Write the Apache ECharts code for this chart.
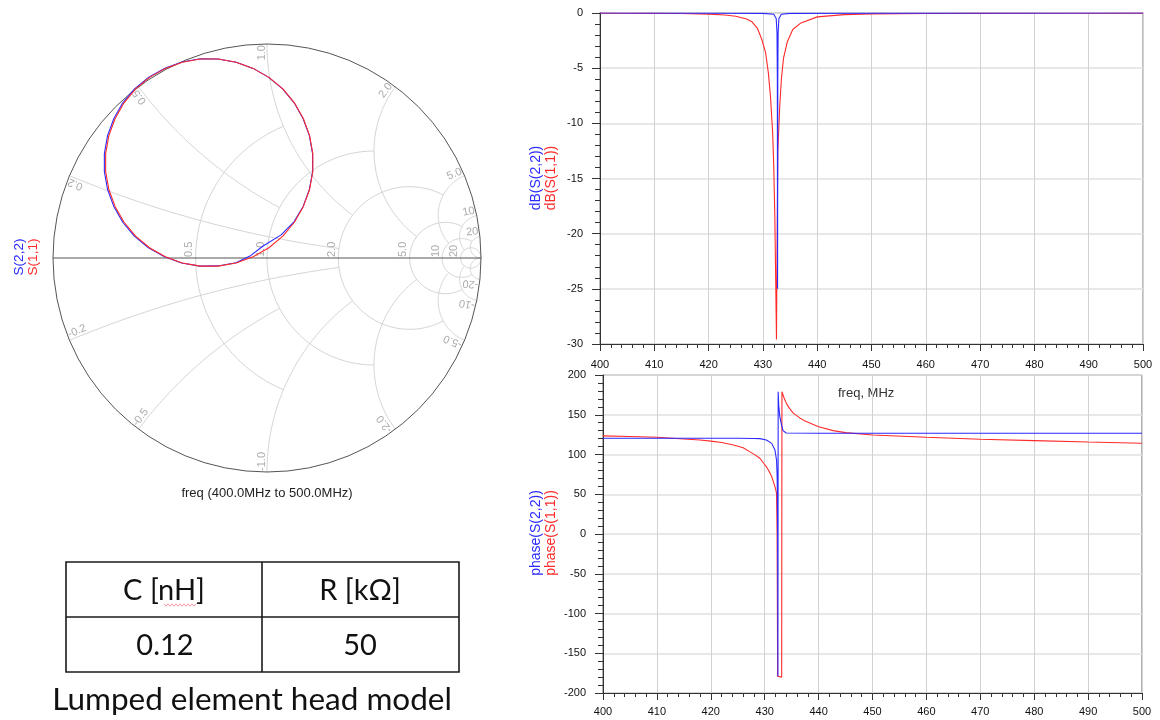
<!DOCTYPE html>
<html>
<head>
<meta charset="utf-8">
<title>S-parameters – lumped element head model</title>
<script src="https://cdn.jsdelivr.net/npm/echarts@6.0.0/dist/echarts.min.js"></script>
<style>
html,body{margin:0;padding:0;background:#fff;}
#chart{width:1160px;height:720px;}
</style>
</head>
<body>
<div id="chart"></div>
<script>
// ---------------- data ----------------
// frequency sweep in MHz
const freqTicks = [400, 410, 420, 430, 440, 450, 460, 470, 480, 490, 500];

// magnitude, dB  [freq MHz, dB]
const dbS11 = [[400,-0.01],[405,-0.02],[410,-0.03],[415,-0.05],[420,-0.1],[423,-0.18],[425,-0.3],[427,-0.55],[428,-0.8],[429,-1.4],[429.8,-2.4],[430.5,-3.6],[431,-5.4],[431.4,-7.6],[431.8,-10.9],[432,-13.9],[432.2,-18.5],[432.35,-24],[432.5,-29.6],[432.6,-22],[432.75,-12.5],[433.1,-8.5],[433.4,-6],[433.8,-4.1],[434.5,-2.6],[435.5,-1.5],[437,-0.9],[440,-0.35],[445,-0.15],[450,-0.08],[460,-0.04],[470,-0.03],[480,-0.02],[490,-0.02],[500,-0.01]];
const dbS22 = [[400,0],[420,-0.01],[430,-0.03],[432,-0.12],[432.45,-0.5],[432.6,-1.8],[432.66,-6],[432.7,-25],[432.74,-6],[432.8,-1.8],[432.95,-0.5],[433.4,-0.12],[435,-0.03],[450,-0.01],[500,0]];

// phase, degrees  [freq MHz, deg]
const phaseS11 = [[400,123.4],[405,122.6],[410,121.7],[415,119.5],[418,118.3],[420,116.8],[422,115],[424.2,112],[426,108.5],[427.2,103.6],[428.2,99.5],[429.1,95.3],[429.8,89],[430.3,84.8],[430.8,79],[431.3,72.2],[431.9,59.6],[432.2,51.3],[432.3,0],[432.4,-179],[433.15,-180],[433.2,179],[433.6,171],[434.05,164],[434.6,158],[435.3,152],[436.5,146],[437.5,142],[440,135],[442.7,130],[445,127.5],[450,124.6],[460,121.7],[470,119.2],[480,117.5],[490,115.8],[500,114.2]];
const phaseS22 = [[400,120.4],[410,120.4],[420,120.4],[425,120.4],[428,120.2],[429.1,120],[430.3,118.3],[431.3,114],[431.9,105.7],[432.2,93],[432.3,75],[432.35,51],[432.4,0],[432.45,-179],[432.5,179],[432.6,162],[432.8,148],[433.1,138],[433.4,130],[434,127],[440,126.7],[450,126.7],[500,126.7]];

// reflection coefficient on the Smith chart  [Re, Im]
const smithS11 = [[-0.549,0.844],[-0.475,0.886],[-0.396,0.915],[-0.312,0.930],[-0.228,0.930],[-0.144,0.915],[-0.065,0.886],[0.009,0.844],[0.074,0.790],[0.128,0.725],[0.170,0.651],[0.199,0.572],[0.214,0.488],[0.214,0.404],[0.199,0.320],[0.170,0.241],[0.128,0.167],[0.074,0.102],[0.009,0.048],[-0.065,0.006],[-0.144,-0.023],[-0.228,-0.038],[-0.312,-0.038],[-0.396,-0.023],[-0.475,0.006],[-0.549,0.048],[-0.614,0.102],[-0.668,0.167],[-0.710,0.241],[-0.739,0.320],[-0.754,0.404],[-0.754,0.488],[-0.739,0.572],[-0.710,0.651],[-0.668,0.725],[-0.614,0.790],[-0.549,0.844]];
const smithS22 = [[-0.552,0.845],[-0.477,0.887],[-0.397,0.916],[-0.312,0.931],[-0.228,0.930],[-0.144,0.915],[-0.065,0.886],[0.008,0.844],[0.073,0.790],[0.127,0.725],[0.169,0.651],[0.198,0.572],[0.213,0.488],[0.213,0.404],[0.198,0.320],[0.169,0.241],[0.126,0.169],[0.066,0.108],[-0.020,0.055],[-0.075,0.012],[-0.145,-0.022],[-0.229,-0.037],[-0.314,-0.038],[-0.399,-0.023],[-0.479,0.006],[-0.554,0.048],[-0.620,0.102],[-0.674,0.167],[-0.716,0.241],[-0.745,0.320],[-0.760,0.404],[-0.760,0.488],[-0.745,0.572],[-0.716,0.651],[-0.674,0.725],[-0.619,0.790],[-0.552,0.845]];

// Smith chart grid values
const resistanceValues = [0.5, 1, 2, 5, 10, 20];
const reactanceValues = [0.2, 0.5, 1, 2, 5, 10, 20];

// model parameter table
const tableHeader = ['C [nH]', 'R [kΩ]'];
const tableValues = ['0.12', '50'];
const caption = 'Lumped element head model';

// ---------------- drawing ----------------
const RED = '#ff2a2a';
const BLUE = '#2a2aff';
const GRID_GRAY = '#d2d2d2';
const SMITH_GRAY = '#d4d4d4';
const LABEL_GRAY = '#acacac';
const FONT = '"Liberation Sans", Arial, sans-serif';
const OFFICE_FONT = 'Lato, "Open Sans", sans-serif';

// where each grid arc stops (reactance limit for r-circles, resistance limit for x-arcs)
const resistanceLimit = {0.5: 1, 1: 2, 2: 5, 5: 10, 10: 20, 20: Infinity};
const reactanceLimit = {0.2: 2, 0.5: 1, 1: 2, 2: 5, 5: 10, 10: 20, 20: Infinity};

function gammaOf(r, x) {
  if (!isFinite(r) || !isFinite(x)) return [1, 0];
  const den = (r + 1) * (r + 1) + x * x;
  return [(r * r + x * x - 1) / den, 2 * x / den];
}
function fmt(v) { return Math.abs(v) < 10 ? v.toFixed(1) : String(v); }

function renderSmithGrid(params, api) {
  const c0 = api.coord([0, 0]);
  const rad = api.coord([1, 0])[0] - c0[0];
  const toPx = p => api.coord(p);
  const kids = [];
  const N = 90;

  // constant resistance circles
  resistanceValues.forEach(r => {
    const X = resistanceLimit[r];
    const cx = r / (1 + r), R = 1 / (1 + r);
    const gp = gammaOf(r, X), gm = gammaOf(r, -X);
    const t1 = isFinite(X) ? Math.atan2(gp[1], gp[0] - cx) : 0;
    const t2 = isFinite(X) ? Math.atan2(gm[1], gm[0] - cx) + 2 * Math.PI : 2 * Math.PI;
    const pts = [];
    for (let i = 0; i <= N; i++) {
      const t = t1 + (t2 - t1) * i / N;
      pts.push(toPx([cx + R * Math.cos(t), R * Math.sin(t)]));
    }
    kids.push({type: 'polyline', shape: {points: pts}, style: {stroke: SMITH_GRAY, fill: 'none', lineWidth: 1}});
    // label on the real axis
    const a = toPx([(r - 1) / (r + 1), 0]);
    kids.push({type: 'text', x: a[0] - 1, y: a[1] - 1, rotation: Math.PI / 2,
      style: {text: fmt(r), fill: LABEL_GRAY, font: '11px ' + FONT, align: 'left', verticalAlign: 'bottom'}});
  });

  // constant reactance arcs (both signs)
  reactanceValues.forEach(xv => {
    [xv, -xv].forEach(x => {
      const Rlim = reactanceLimit[xv];
      const cy = 1 / x, R = 1 / Math.abs(x);
      const g0 = gammaOf(0, x), g1 = gammaOf(Rlim, x);
      const t1 = Math.atan2(g0[1] - cy, g0[0] - 1);
      const t2 = Math.atan2(g1[1] - cy, g1[0] - 1);
      let d = t2 - t1;
      while (d > Math.PI) d -= 2 * Math.PI;
      while (d < -Math.PI) d += 2 * Math.PI;
      const pts = [];
      for (let i = 0; i <= N; i++) {
        const t = t1 + d * i / N;
        pts.push(toPx([1 + R * Math.cos(t), cy + R * Math.sin(t)]));
      }
      kids.push({type: 'polyline', shape: {points: pts}, style: {stroke: SMITH_GRAY, fill: 'none', lineWidth: 1}});
      // label just inside the rim, reading along the radius
      const th = Math.atan2(g0[1], g0[0]);
      const upper = th > 0;
      const rot = upper ? th : th + Math.PI;
      const a = toPx([g0[0] * 0.995, g0[1] * 0.995]);
      kids.push({type: 'text', x: a[0], y: a[1], rotation: rot,
        style: {text: fmt(x), fill: LABEL_GRAY, font: '11px ' + FONT,
          align: upper ? 'right' : 'left', verticalAlign: 'bottom'}});
    });
  });

  // real axis and rim
  const l = toPx([-1, 0]), rt = toPx([1, 0]);
  kids.push({type: 'line', shape: {x1: l[0], y1: l[1], x2: rt[0], y2: rt[1]}, style: {stroke: '#555', lineWidth: 1}});
  kids.push({type: 'circle', shape: {cx: c0[0], cy: c0[1], r: rad}, style: {stroke: '#555', fill: 'none', lineWidth: 1}});
  return {type: 'group', children: kids};
}

function plotAxisX(gridIndex, margin) {
  return {
    gridIndex, type: 'value', min: 400, max: 500, interval: 10,
    axisLine: {show: true, onZero: false, lineStyle: {color: '#333', width: 1}},
    axisTick: {show: true, length: 7, lineStyle: {color: '#333'}},
    minorTick: {show: true, splitNumber: 5, length: 4, lineStyle: {color: '#333'}},
    splitLine: {show: true, lineStyle: {color: GRID_GRAY, width: 1}},
    axisLabel: {fontSize: 11, color: '#111', margin, fontFamily: FONT, customValues: freqTicks}
  };
}
function plotAxisY(gridIndex, min, max, interval, minor) {
  return {
    gridIndex, type: 'value', min, max, interval,
    axisLine: {show: true, onZero: false, lineStyle: {color: '#333', width: 1}},
    axisTick: {show: true, length: 8, lineStyle: {color: '#333'}},
    minorTick: {show: true, splitNumber: minor, length: 5, lineStyle: {color: '#333'}},
    splitLine: {show: true, lineStyle: {color: '#e0e0e0', width: 1.5}},
    axisLabel: {fontSize: 11, color: '#111', margin: 17, fontFamily: FONT}
  };
}
function trace(xi, yi, data, color, z) {
  return {type: 'line', xAxisIndex: xi, yAxisIndex: yi, data, showSymbol: false, symbol: 'none',
    lineStyle: {color, width: 1.1}, itemStyle: {color}, z, animation: false, clip: true};
}
function vtext(text, x, y, color, size) {
  return {type: 'text', x, y, rotation: Math.PI / 2,
    style: {text, fill: color, font: size + 'px ' + FONT, align: 'center', verticalAlign: 'middle'}};
}
function ctext(text, x, y, size) {
  return {type: 'text', x, y, style: {text, fill: '#111', font: size + 'px ' + OFFICE_FONT, align: 'center', verticalAlign: 'middle'}};
}

// table geometry
const T = {left: 66, right: 459, top: 562, mid: 617, bottom: 672, col: 262};
function squiggle(x0, x1, y) {
  const pts = [];
  for (let x = x0, k = 0; x <= x1; x += 2, k++) pts.push([x, y + (k % 2 ? 1.2 : -1.2)]);
  return pts;
}

const chart = echarts.init(document.getElementById('chart'), null, {renderer: 'canvas'});
chart.setOption({
  animation: false,
  backgroundColor: '#fff',
  textStyle: {fontFamily: FONT},
  grid: [
    {left: 53, top: 44, width: 428, height: 428},
    {left: 600, top: 13, width: 543, height: 331, show: true, borderColor: '#a8a8a8', borderWidth: 1.5},
    {left: 603, top: 375, width: 539, height: 318, show: true, borderColor: '#666', borderWidth: 1}
  ],
  xAxis: [
    {gridIndex: 0, type: 'value', min: -1, max: 1, show: false},
    plotAxisX(1, 15),
    plotAxisX(2, 13)
  ],
  yAxis: [
    {gridIndex: 0, type: 'value', min: -1, max: 1, show: false},
    plotAxisY(1, -30, 0, 5, 5),
    plotAxisY(2, -200, 200, 50, 5)
  ],
  series: [
    {type: 'custom', xAxisIndex: 0, yAxisIndex: 0, data: [[0, 0]], renderItem: renderSmithGrid, silent: true, z: 1, clip: false},
    trace(0, 0, smithS11, RED, 4),
    trace(0, 0, smithS22, BLUE, 3),
    trace(1, 1, dbS11, RED, 3),
    trace(1, 1, dbS22, BLUE, 4),
    trace(2, 2, phaseS11, RED, 3),
    trace(2, 2, phaseS22, BLUE, 4)
  ],
  graphic: [
    // Smith chart annotations
    vtext('S(2,2)', 19, 257, BLUE, 13.5),
    vtext('S(1,1)', 33, 257, RED, 13.5),
    {type: 'text', x: 267, y: 493, style: {text: 'freq (400.0MHz to 500.0MHz)', fill: '#222', font: '13px ' + FONT, align: 'center', verticalAlign: 'middle'}},
    // rectangular plot annotations
    vtext('dB(S(2,2))', 536, 178, BLUE, 14),
    vtext('dB(S(1,1))', 551, 178, RED, 14),
    vtext('phase(S(2,2))', 536, 533, BLUE, 14),
    vtext('phase(S(1,1))', 551, 533, RED, 14),
    {type: 'text', x: 838, y: 393, style: {text: 'freq, MHz', fill: '#333', font: '13px ' + FONT, align: 'left', verticalAlign: 'middle'}},
    // parameter table
    {type: 'rect', shape: {x: T.left, y: T.top, width: T.right - T.left, height: T.bottom - T.top}, style: {fill: 'none', stroke: '#1a1a1a', lineWidth: 1.6}},
    {type: 'line', shape: {x1: T.left, y1: T.mid, x2: T.right, y2: T.mid}, style: {stroke: '#1a1a1a', lineWidth: 1.6}},
    {type: 'line', shape: {x1: T.col, y1: T.top, x2: T.col, y2: T.bottom}, style: {stroke: '#1a1a1a', lineWidth: 1.6}},
    ctext(tableHeader[0], 164, 591, 29),
    ctext(tableHeader[1], 360, 591, 29),
    ctext(tableValues[0], 165, 646, 29),
    ctext(tableValues[1], 360, 646, 29),
    {type: 'polyline', shape: {points: squiggle(164, 197, 605)}, style: {stroke: '#ef7f8a', fill: 'none', lineWidth: 0.8}},
    ctext(caption, 252, 700, 31.5)
  ]
});
</script>
</body>
</html>
